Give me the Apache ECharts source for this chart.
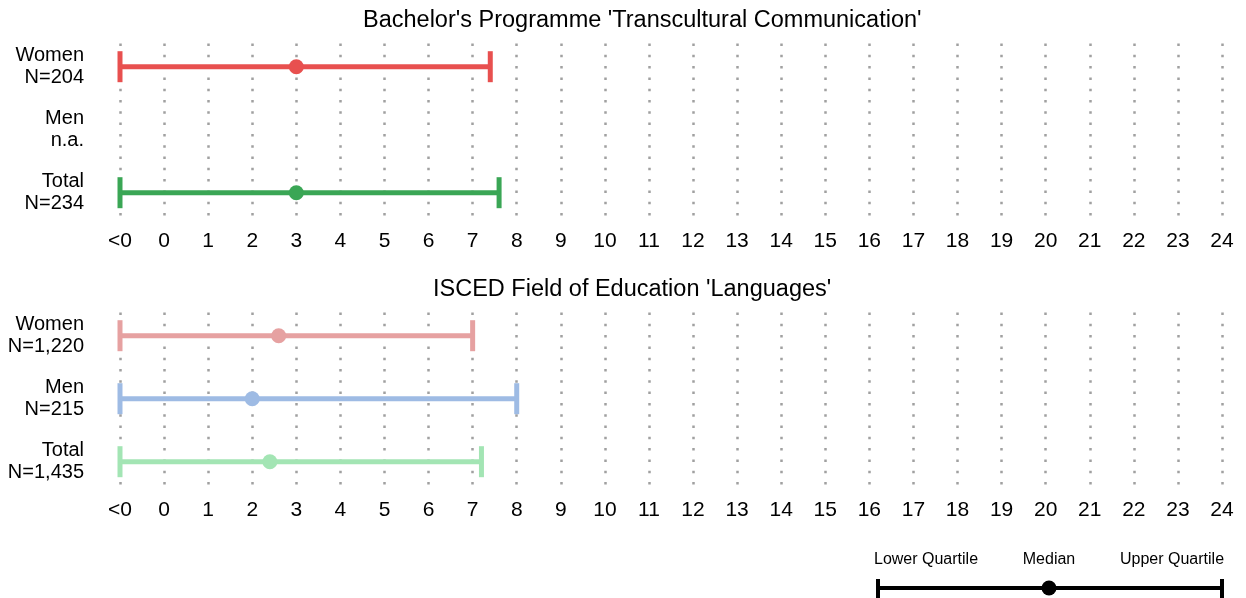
<!DOCTYPE html>
<html>
<head>
<meta charset="utf-8">
<script src="https://cdn.jsdelivr.net/npm/echarts@6/dist/echarts.min.js"></script>
<style>
  html, body { margin: 0; padding: 0; background: #ffffff; }
  #chart { width: 1246px; height: 598px; }
</style>
</head>
<body>
<div id="chart"></div>
<script>
// ---- data ----
const xTickValues = [-1, 0, 1, 2, 3, 4, 5, 6, 7, 8, 9, 10, 11, 12, 13, 14, 15, 16, 17, 18, 19, 20, 21, 22, 23, 24];
const xTickLabels = ['<0', '0', '1', '2', '3', '4', '5', '6', '7', '8', '9', '10', '11', '12', '13', '14', '15', '16', '17', '18', '19', '20', '21', '22', '23', '24'];

const panel1Title = "Bachelor's Programme 'Transcultural Communication'";
const panel1Rows = ['Women\nN=204', 'Men\nn.a.', 'Total\nN=234'];
// [lower quartile, median, upper quartile]; null = not available
const panel1Women = [-1, 3.0, 7.4];
const panel1Men = null;
const panel1Total = [-1, 3.0, 7.6];
const panel1Colors = ['#e8504f', '#e8504f', '#3aa655'];

const panel2Title = "ISCED Field of Education 'Languages'";
const panel2Rows = ['Women\nN=1,220', 'Men\nN=215', 'Total\nN=1,435'];
const panel2Women = [-1, 2.6, 7.0];
const panel2Men = [-1, 2.0, 8.0];
const panel2Total = [-1, 2.4, 7.2];
const panel2Colors = ['#e6a1a1', '#9ebbe4', '#a3e5b4'];

const legendLabels = ['Lower Quartile', 'Median', 'Upper Quartile'];

// ---- helpers ----
const FONT = '"Liberation Sans", Arial, Helvetica, sans-serif';
const xMin = xTickValues[0], xMax = xTickValues[xTickValues.length - 1];
const labelFor = v => { const i = xTickValues.indexOf(v); return i >= 0 ? xTickLabels[i] : ''; };

function rowsData(list) {
  const out = [];
  list.forEach((d, i) => { if (d) out.push([i, d[0], d[1], d[2]]); });
  return out;
}

function renderWhisker(colors) {
  return function (params, api) {
    const row = api.value(0);
    const lo = api.coord([api.value(1), row]);
    const md = api.coord([api.value(2), row]);
    const hi = api.coord([api.value(3), row]);
    const c = colors[row];
    const capH = 15.5;
    return {
      type: 'group',
      children: [
        { type: 'line', shape: { x1: lo[0], y1: lo[1], x2: hi[0], y2: hi[1] }, style: { stroke: c, lineWidth: 5 } },
        { type: 'line', shape: { x1: lo[0], y1: lo[1] - capH, x2: lo[0], y2: lo[1] + capH }, style: { stroke: c, lineWidth: 5 } },
        { type: 'line', shape: { x1: hi[0], y1: hi[1] - capH, x2: hi[0], y2: hi[1] + capH }, style: { stroke: c, lineWidth: 5 } },
        { type: 'circle', shape: { cx: md[0], cy: md[1], r: 7.5 }, style: { fill: c } }
      ]
    };
  };
}

const LEFT = 120, WIDTH = 1102;
const OFFSET = 269;
const grids = [];
const xAxes = [];
const yAxes = [];
const series = [];

function addPanel(k, rows, data, colors) {
  const dy = k * OFFSET;
  grids.push({ left: LEFT, width: WIDTH, top: 35.2 + dy, height: 189 });
  grids.push({ left: LEFT, width: WIDTH, top: 43.5 + dy, height: 172 });
  const gA = grids.length - 2, gB = grids.length - 1;
  xAxes.push({
    type: 'value', gridIndex: gA, min: xMin, max: xMax, interval: 1,
    show: false, splitLine: { show: false }
  });
  xAxes.push({
    type: 'value', gridIndex: gB, min: xMin, max: xMax, interval: 1,
    axisLine: { show: false }, axisTick: { show: false },
    axisLabel: { formatter: v => labelFor(v), fontSize: 21, color: '#000', fontFamily: FONT, margin: 15, showMinLabel: true, showMaxLabel: true },
    splitLine: { show: true, lineStyle: { color: '#a0a0a0', width: 2.5, type: [2.5, 8.8] } }
  });
  const xA = xAxes.length - 2;
  yAxes.push({
    type: 'category', gridIndex: gA, data: rows, inverse: true, boundaryGap: true,
    axisLine: { show: false }, axisTick: { show: false }, splitLine: { show: false },
    axisLabel: { fontSize: 20, color: '#000', fontFamily: FONT, margin: 36, align: 'right', lineHeight: 22, padding: [3, 0, 0, 0] }
  });
  yAxes.push({ type: 'value', gridIndex: gB, show: false, min: 0, max: 1, splitLine: { show: false } });
  const yA = yAxes.length - 2;
  series.push({
    type: 'custom', xAxisIndex: xA, yAxisIndex: yA,
    renderItem: renderWhisker(colors),
    encode: { x: [1, 2, 3], y: 0 },
    data: rowsData(data),
    silent: true, clip: false
  });
}

addPanel(0, panel1Rows, [panel1Women, panel1Men, panel1Total], panel1Colors);
addPanel(1, panel2Rows, [panel2Women, panel2Men, panel2Total], panel2Colors);

const chart = echarts.init(document.getElementById('chart'), null, { renderer: 'canvas' });
chart.setOption({
  backgroundColor: '#ffffff',
  animation: false,
  textStyle: { fontFamily: FONT },
  title: [
    { text: panel1Title, left: 358, top: 4, textStyle: { fontSize: 23.5, fontWeight: 'normal', color: '#000', fontFamily: FONT } },
    { text: panel2Title, left: 428, top: 4 + OFFSET, textStyle: { fontSize: 23.5, fontWeight: 'normal', color: '#000', fontFamily: FONT } }
  ],
  grid: grids,
  xAxis: xAxes,
  yAxis: yAxes,
  series: series,
  graphic: [
    { type: 'text', x: 926, y: 560, style: { text: legendLabels[0], fontSize: 16, fontFamily: FONT, fill: '#000', align: 'center', verticalAlign: 'middle' } },
    { type: 'text', x: 1049, y: 560, style: { text: legendLabels[1], fontSize: 16, fontFamily: FONT, fill: '#000', align: 'center', verticalAlign: 'middle' } },
    { type: 'text', x: 1172, y: 560, style: { text: legendLabels[2], fontSize: 16, fontFamily: FONT, fill: '#000', align: 'center', verticalAlign: 'middle' } },
    { type: 'line', shape: { x1: 878, y1: 588, x2: 1222, y2: 588 }, style: { stroke: '#000', lineWidth: 4 } },
    { type: 'line', shape: { x1: 878, y1: 579, x2: 878, y2: 598 }, style: { stroke: '#000', lineWidth: 4 } },
    { type: 'line', shape: { x1: 1222, y1: 579, x2: 1222, y2: 598 }, style: { stroke: '#000', lineWidth: 4 } },
    { type: 'circle', shape: { cx: 1049, cy: 588, r: 7.5 }, style: { fill: '#000' } }
  ]
});
</script>
</body>
</html>
